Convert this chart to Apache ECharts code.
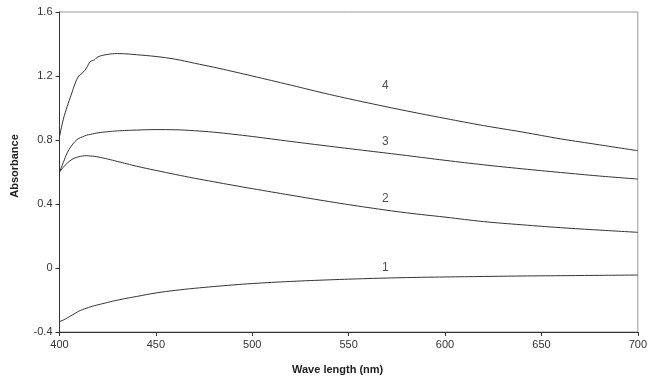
<!DOCTYPE html>
<html>
<head>
<meta charset="utf-8">
<script src="https://cdn.jsdelivr.net/npm/echarts@6/dist/echarts.min.js"></script>
<style>html,body{margin:0;padding:0;background:#fff}#c{width:650px;height:381px}</style>
</head>
<body>
<div id="c"></div>
<script>
const wavelengths = [400,402,404,406,408,410,412,414,416,418,420,425,430,435,440,450,460,470,480,490,500,520,540,560,580,600,620,640,660,680,700];
const curve1 = [-0.335,-0.325,-0.312,-0.298,-0.284,-0.27,-0.26,-0.251,-0.243,-0.236,-0.23,-0.215,-0.201,-0.189,-0.178,-0.156,-0.14,-0.127,-0.116,-0.106,-0.097,-0.084,-0.074,-0.066,-0.06,-0.056,-0.053,-0.05,-0.048,-0.046,-0.044];
const curve2 = [0.60,0.63,0.655,0.675,0.688,0.695,0.70,0.702,0.70,0.698,0.694,0.681,0.666,0.651,0.636,0.61,0.585,0.561,0.539,0.517,0.496,0.455,0.415,0.378,0.345,0.318,0.29,0.27,0.252,0.237,0.223];
const curve3 = [0.60,0.66,0.72,0.76,0.79,0.81,0.82,0.83,0.835,0.84,0.845,0.852,0.857,0.86,0.862,0.865,0.864,0.858,0.849,0.836,0.822,0.791,0.761,0.732,0.703,0.673,0.645,0.62,0.597,0.575,0.556];
const curve4 = [0.82,0.93,1.01,1.08,1.15,1.20,1.22,1.25,1.29,1.30,1.32,1.335,1.34,1.338,1.333,1.322,1.305,1.28,1.255,1.228,1.20,1.143,1.085,1.032,0.982,0.935,0.89,0.85,0.807,0.77,0.733];
const labelX = [569,569,569,569];
const labelY = [0.0,0.435,0.79,1.14];
const labelText = ['1','2','3','4'];
const xTicks = [400,450,500,550,600,650,700];
const yTicks = [-0.4,0,0.4,0.8,1.2,1.6];

const curves = [curve1, curve2, curve3, curve4];
const chart = echarts.init(document.getElementById('c'));
const font = 'Liberation Sans, Arial, sans-serif';
const series = curves.map((c, i) => ({
  type: 'line',
  data: wavelengths.map((w, j) => [w, c[j]]),
  showSymbol: false,
  smooth: 0.4,
  lineStyle: { color: '#333', width: 1 },
  silent: true
}));
series.push({
  type: 'scatter',
  symbolSize: 0,
  data: labelX.map((x, i) => [x, labelY[i], labelText[i]]),
  label: { show: true, formatter: p => p.data[2], position: 'inside', color: '#222', fontSize: 12, fontFamily: font },
  silent: true
});
chart.setOption({
  animation: false,
  grid: { left: 59.5, right: 12, top: 12, bottom: 49, show: true, borderColor: '#999', borderWidth: 1 },
  xAxis: {
    type: 'value', min: 400, max: 700, interval: 50,
    axisLine: { show: true, onZero: false, lineStyle: { color: '#333' } },
    axisTick: { show: true, length: 4, lineStyle: { color: '#333' } },
    axisLabel: { color: '#333', fontSize: 11, fontFamily: font, margin: 7, formatter: v => xTicks.includes(v) ? String(v) : '' },
    splitLine: { show: false }
  },
  yAxis: {
    type: 'value', min: -0.4, max: 1.6, interval: 0.4,
    axisLine: { show: true, onZero: false, lineStyle: { color: '#333' } },
    axisTick: { show: true, length: 4, inside: false, lineStyle: { color: '#333' } },
    axisLabel: { color: '#333', fontSize: 11, fontFamily: font, margin: 7,
      formatter: v => { const r = Math.round(v * 10) / 10; return r === 0 ? '0' : String(r); } },
    splitLine: { show: false }
  },
  graphic: [
    { type: 'text', left: 337 - 45, top: 364, style: { text: 'Wave length (nm)', fill: '#222', font: 'bold 11px ' + font } },
    { type: 'text', x: 15, y: 166, rotation: Math.PI / 2, style: { text: 'Absorbance', fill: '#222', font: 'bold 11px ' + font, align: 'center', verticalAlign: 'middle' } }
  ],
  series: series
});
</script>
</body>
</html>
